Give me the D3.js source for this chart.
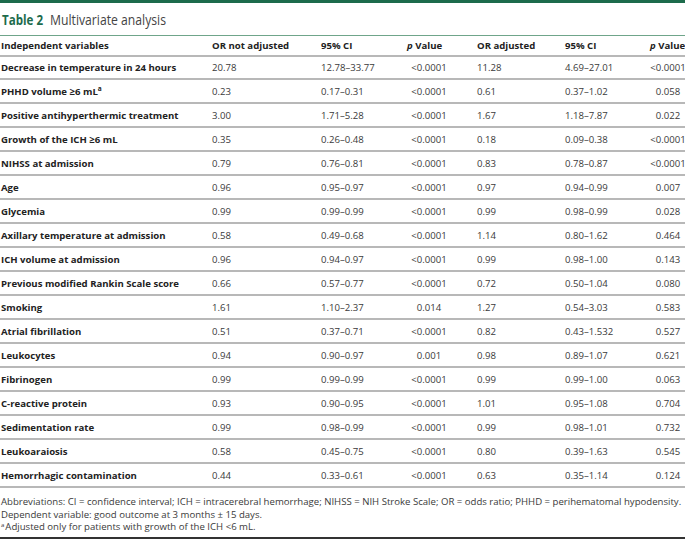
<!DOCTYPE html>
<html>
<head>
<meta charset="utf-8">
<script src="https://cdn.jsdelivr.net/npm/d3@7"></script>
<style>
  body { margin: 0; background: #fff; }
  svg { display: block; font-family: "Open Sans", sans-serif; }
</style>
</head>
<body>
<svg id="table" width="685" height="541"></svg>
<script>
// Table 2 values
const variables = [
    "Decrease in temperature in 24 hours", "PHHD volume ≥6 mL", "Positive antihyperthermic treatment",
    "Growth of the ICH ≥6 mL", "NIHSS at admission", "Age", "Glycemia", "Axillary temperature at admission",
    "ICH volume at admission", "Previous modified Rankin Scale score", "Smoking", "Atrial fibrillation",
    "Leukocytes", "Fibrinogen", "C-reactive protein", "Sedimentation rate", "Leukoaraiosis",
    "Hemorrhagic contamination"
];
const orCrude = ["20.78", "0.23", "3.00", "0.35", "0.79", "0.96", "0.99", "0.58", "0.96", "0.66", "1.61",
    "0.51", "0.94", "0.99", "0.93", "0.99", "0.58", "0.44"];
const ciCrude = ["12.78–33.77", "0.17–0.31", "1.71–5.28", "0.26–0.48", "0.76–0.81", "0.95–0.97", "0.99–0.99",
    "0.49–0.68", "0.94–0.97", "0.57–0.77", "1.10–2.37", "0.37–0.71", "0.90–0.97", "0.99–0.99", "0.90–0.95",
    "0.98–0.99", "0.45–0.75", "0.33–0.61"];
const pCrude = ["<0.0001", "<0.0001", "<0.0001", "<0.0001", "<0.0001", "<0.0001", "<0.0001", "<0.0001",
    "<0.0001", "<0.0001", "0.014", "<0.0001", "0.001", "<0.0001", "<0.0001", "<0.0001", "<0.0001", "<0.0001"];
const orAdj = ["11.28", "0.61", "1.67", "0.18", "0.83", "0.97", "0.99", "1.14", "0.99", "0.72", "1.27", "0.82",
    "0.98", "0.99", "1.01", "0.99", "0.80", "0.63"];
const ciAdj = ["4.69–27.01", "0.37–1.02", "1.18–7.87", "0.09–0.38", "0.78–0.87", "0.94–0.99", "0.98–0.99",
    "0.80–1.62", "0.98–1.00", "0.50–1.04", "0.54–3.03", "0.43–1.532", "0.89–1.07", "0.99–1.00", "0.95–1.08",
    "0.98–1.01", "0.39–1.63", "0.35–1.14"];
const pAdj = ["<0.0001", "0.058", "0.022", "<0.0001", "<0.0001", "0.007", "0.028", "0.464", "0.143", "0.080",
    "0.583", "0.527", "0.621", "0.063", "0.704", "0.732", "0.545", "0.124"];

const headers = ["Independent variables", "OR not adjusted", "95% CI", "p Value", "OR adjusted", "95% CI", "p Value"];
const footnotes = [
    "Abbreviations: CI = confidence interval; ICH = intracerebral hemorrhage; NIHSS = NIH Stroke Scale; OR = odds ratio; PHHD = perihematomal hypodensity.",
    "Dependent variable: good outcome at 3 months ± 15 days.",
    "Adjusted only for patients with growth of the ICH <6 mL."
];

const green = "#1d6b4c";
const ruleColor = "#a0a0a0";
const textColor = "#3a3a3a";
const fontSize = 9.6;

const svg = d3.select("#table");
const columns = [variables, orCrude, ciCrude, pCrude, orAdj, ciAdj, pAdj];

// column anchors; p value columns are centred
const colX = d3.scaleOrdinal().domain(d3.range(7)).range([1, 212, 321, 429, 477, 565, 668]);
const colAnchor = i => (i === 3 || i === 6) ? "middle" : "start";

// row centres
const dataY = d3.scaleLinear().domain([0, variables.length - 1]).range([67, 475]);
const headerY = 45;

// top bar + title
svg.append("rect").attr("x", 0).attr("y", 0).attr("width", 685).attr("height", 3).attr("fill", green);
svg.append("text").attr("x", 2).attr("y", 25).attr("font-size", 14)
    .attr("fill", green).attr("font-weight", "bold")
    .attr("textLength", 41).attr("lengthAdjust", "spacingAndGlyphs")
    .text("Table 2");
svg.append("text").attr("x", 50).attr("y", 25).attr("font-size", 14)
    .attr("fill", "#444")
    .attr("textLength", 116).attr("lengthAdjust", "spacingAndGlyphs")
    .text("Multivariate analysis");
svg.append("line").attr("x1", 0).attr("x2", 685).attr("y1", 35.5).attr("y2", 35.5)
    .attr("stroke", "#6fa58a").attr("stroke-width", 1.2);

// header
headers.forEach((h, i) => {
    const t = svg.append("text")
        .attr("x", colX(i)).attr("y", headerY + 3.5)
        .attr("font-size", fontSize).attr("font-weight", "bold").attr("fill", "#222");
    if (h === "p Value") {
        t.attr("x", i === 3 ? 407 : 650);
        t.append("tspan").attr("font-style", "italic").text("p");
        t.append("tspan").text(" Value");
    } else {
        t.text(h);
    }
});

// row separators
const sepYs = [56].concat(variables.map((v, i) => dataY(i) + 12));
svg.selectAll("line.sep")
    .data(sepYs)
    .join("line")
    .attr("class", "sep")
    .attr("x1", 0).attr("x2", 685)
    .attr("y1", d => d).attr("y2", d => d)
    .attr("stroke", ruleColor).attr("stroke-width", 1.6);

// data rows
columns.forEach((col, ci) => {
    svg.selectAll("text.c" + ci)
        .data(col)
        .join("text")
        .attr("class", "c" + ci)
        .attr("x", colX(ci))
        .attr("y", (d, i) => dataY(i) + 3.5)
        .attr("text-anchor", colAnchor(ci))
        .attr("font-size", fontSize)
        .attr("font-weight", ci === 0 ? "bold" : "normal")
        .attr("fill", ci === 0 ? "#222" : textColor)
        .each(function(d) {
            const t = d3.select(this);
            if (ci === 0 && d === "PHHD volume ≥6 mL") {
                t.append("tspan").text(d);
                t.append("tspan").attr("dy", -4).attr("font-size", 6.5).text("a");
            } else {
                t.text(d);
            }
        });
});

// footnotes
const footY = [505, 517.5, 530];
footnotes.forEach((f, i) => {
    const t = svg.append("text").attr("x", 1).attr("y", footY[i])
        .attr("font-size", 9.6).attr("fill", textColor);
    if (i === 2) {
        t.append("tspan").attr("font-size", 6).attr("dy", -3).text("a");
        t.append("tspan").attr("dy", 3).attr("dx", 1).text(f);
    } else {
        t.text(f);
    }
});

svg.append("line").attr("x1", 0).attr("x2", 685).attr("y1", 538).attr("y2", 538)
    .attr("stroke", "#333").attr("stroke-width", 2);
</script>
</body>
</html>
